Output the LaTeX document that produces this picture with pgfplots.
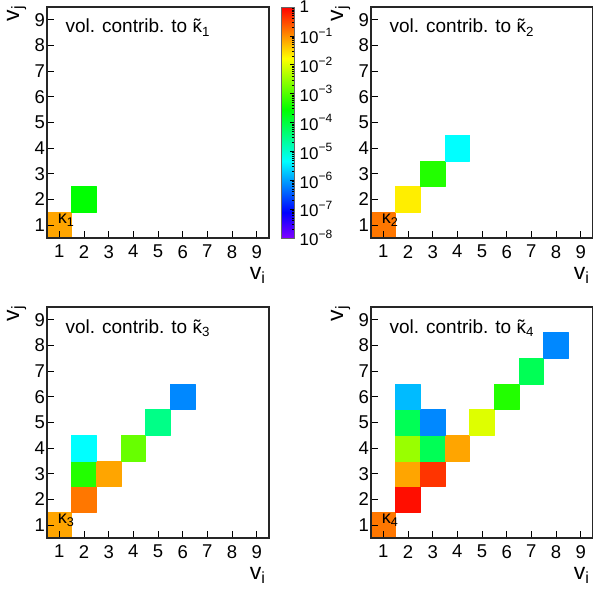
\documentclass[border=0pt]{standalone}
\usepackage{fontspec}
\setmainfont{Liberation Sans}
\usepackage{pgfplots}
\usepackage{pgfplotstable}
\usepgfplotslibrary{patchplots}
\pgfplotsset{compat=1.18}

% cell corners: x y c (c = log10 of the volume contribution)
\pgfplotstableread{
x y c
0.5 0.5 -1.15
1.5 0.5 -1.15
1.5 1.5 -1.15
0.5 1.5 -1.15
1.5 1.5 -3.56
2.5 1.5 -3.56
2.5 2.5 -3.56
1.5 2.5 -3.56
}\kA
\pgfplotstableread{
x y c
0.5 0.5 -0.83
1.5 0.5 -0.83
1.5 1.5 -0.83
0.5 1.5 -0.83
1.5 1.5 -1.66
2.5 1.5 -1.66
2.5 2.5 -1.66
1.5 2.5 -1.66
2.5 2.5 -3.32
3.5 2.5 -3.32
3.5 3.5 -3.32
2.5 3.5 -3.32
3.5 3.5 -5.33
4.5 3.5 -5.33
4.5 4.5 -5.33
3.5 4.5 -5.33
}\kB
\pgfplotstableread{
x y c
0.5 0.5 -1.15
1.5 0.5 -1.15
1.5 1.5 -1.15
0.5 1.5 -1.15
1.5 1.5 -0.83
2.5 1.5 -0.83
2.5 2.5 -0.83
1.5 2.5 -0.83
1.5 2.5 -3.32
2.5 2.5 -3.32
2.5 3.5 -3.32
1.5 3.5 -3.32
2.5 2.5 -1.15
3.5 2.5 -1.15
3.5 3.5 -1.15
2.5 3.5 -1.15
1.5 3.5 -5.33
2.5 3.5 -5.33
2.5 4.5 -5.33
1.5 4.5 -5.33
3.5 3.5 -2.84
4.5 3.5 -2.84
4.5 4.5 -2.84
3.5 4.5 -2.84
4.5 4.5 -4.50
5.5 4.5 -4.50
5.5 5.5 -4.50
4.5 5.5 -4.50
5.5 5.5 -6.16
6.5 5.5 -6.16
6.5 6.5 -6.16
5.5 6.5 -6.16
}\kC
\pgfplotstableread{
x y c
0.5 0.5 -0.83
1.5 0.5 -0.83
1.5 1.5 -0.83
0.5 1.5 -0.83
1.5 1.5 -0.10
2.5 1.5 -0.10
2.5 2.5 -0.10
1.5 2.5 -0.10
1.5 2.5 -1.15
2.5 2.5 -1.15
2.5 3.5 -1.15
1.5 3.5 -1.15
2.5 2.5 -0.36
3.5 2.5 -0.36
3.5 3.5 -0.36
2.5 3.5 -0.36
1.5 3.5 -2.49
2.5 3.5 -2.49
2.5 4.5 -2.49
1.5 4.5 -2.49
2.5 3.5 -4.15
3.5 3.5 -4.15
3.5 4.5 -4.15
2.5 4.5 -4.15
3.5 3.5 -1.15
4.5 3.5 -1.15
4.5 4.5 -1.15
3.5 4.5 -1.15
1.5 4.5 -4.15
2.5 4.5 -4.15
2.5 5.5 -4.15
1.5 5.5 -4.15
2.5 4.5 -6.16
3.5 4.5 -6.16
3.5 5.5 -6.16
2.5 5.5 -6.16
4.5 4.5 -2.01
5.5 4.5 -2.01
5.5 5.5 -2.01
4.5 5.5 -2.01
1.5 5.5 -5.81
2.5 5.5 -5.81
2.5 6.5 -5.81
1.5 6.5 -5.81
5.5 5.5 -3.32
6.5 5.5 -3.32
6.5 6.5 -3.32
5.5 6.5 -3.32
6.5 6.5 -4.15
7.5 6.5 -4.15
7.5 7.5 -4.15
6.5 7.5 -4.15
7.5 7.5 -6.16
8.5 7.5 -6.16
8.5 8.5 -6.16
7.5 8.5 -6.16
}\kD

\newcommand{\ktil}{\ooalign{κ\cr\hidewidth ˜\hidewidth\cr}}
\newcommand{\cbl}[1]{\fontsize{17}{18}\selectfont 10\raisebox{0.45em}{\fontsize{12}{13}\selectfont #1}}

\pgfplotsset{
 colormap={rootpal}{rgb(0cm)=(0.5,0,1); rgb(0.889cm)=(0,0,1); rgb(2.667cm)=(0,1,1); rgb(4.444cm)=(0,1,0); rgb(6.222cm)=(1,1,0); rgb(8cm)=(1,0,0)},
 cellpanel/.style={
   scale only axis, width=222pt, height=231pt,
   anchor=north west,
   xmin=0.5, xmax=9.5, ymin=0.5, ymax=9.5,
   xtick={1,...,9}, ytick={1,...,9},
   tick align=inside, xtick pos=bottom, ytick pos=left,
   major tick length=6.5pt,
   tick style={line width=0.8pt, black},
   axis line style={line width=1.2pt, black!85},
   axis on top,
   point meta min=-8, point meta max=0,
   colormap name=rootpal,
   /pgf/number format/assume math mode=true,
   tick label style={font=\fontsize{18.5}{20}\selectfont},
   xticklabel style={inner sep=0pt, yshift=-7pt},
   yticklabel style={inner sep=0pt, xshift=-2pt},
   every axis x label/.style={at={(axis description cs:1,0)}, anchor=base east, yshift=-42pt, font=\fontsize{23}{24}\selectfont},
   every axis y label/.style={at={(axis description cs:-0.126,1.022)}, anchor=base east, rotate=90, font=\fontsize{23}{24}\selectfont},
   xlabel={v\textsubscript{i}}, ylabel={v\textsubscript{j}},
 },
 cells/.style={patch, patch type=rectangle, shader=flat, point meta=explicit},
}

\begin{document}
\begin{tikzpicture}
\useasboundingbox (0,0) rectangle (593pt,-591pt);

\begin{axis}[cellpanel, at={(47pt,-7pt)},
  colorbar right,
  colorbar style={
    at={(parent axis.north east)}, anchor=north west, xshift=4pt,
    width=13pt,
    ytick={-8,...,0},
    yticklabels={\cbl{−8},\cbl{−7},\cbl{−6},\cbl{−5},\cbl{−4},\cbl{−3},\cbl{−2},\cbl{−1},{\fontsize{17}{18}\selectfont 1}},
    minor ytick={-7.699,-7.523,-7.398,-7.301,-7.222,-7.155,-7.097,-7.046,
                 -6.699,-6.523,-6.398,-6.301,-6.222,-6.155,-6.097,-6.046,
                 -5.699,-5.523,-5.398,-5.301,-5.222,-5.155,-5.097,-5.046,
                 -4.699,-4.523,-4.398,-4.301,-4.222,-4.155,-4.097,-4.046,
                 -3.699,-3.523,-3.398,-3.301,-3.222,-3.155,-3.097,-3.046,
                 -2.699,-2.523,-2.398,-2.301,-2.222,-2.155,-2.097,-2.046,
                 -1.699,-1.523,-1.398,-1.301,-1.222,-1.155,-1.097,-1.046,
                 -0.699,-0.523,-0.398,-0.301,-0.222,-0.155,-0.097,-0.046},
    tick align=inside, ytick pos=right, yticklabel pos=right,
    major tick length=5pt, minor tick length=2.5pt,
    tick style={line width=0.5pt, black},
    axis line style={line width=0.4pt, black!60},
    yticklabel style={inner sep=0pt, xshift=5pt, anchor=west},
  },
]
\addplot[cells] table[meta=c] {\kA};
\node[anchor=base west, font=\fontsize{19}{20}\selectfont] at ([xshift=15pt,yshift=-26pt]rel axis cs:0,1) {vol. contrib. to \ktil\textsubscript{1}};
\node[anchor=base west, font=\fontsize{18}{19}\selectfont] at (axis cs:0.8,1.06) {κ\textsubscript{1}};
\end{axis}

\begin{axis}[cellpanel, at={(371pt,-7pt)}]
\addplot[cells] table[meta=c] {\kB};
\node[anchor=base west, font=\fontsize{19}{20}\selectfont] at ([xshift=15pt,yshift=-26pt]rel axis cs:0,1) {vol. contrib. to \ktil\textsubscript{2}};
\node[anchor=base west, font=\fontsize{18}{19}\selectfont] at (axis cs:0.8,1.06) {κ\textsubscript{2}};
\end{axis}

\begin{axis}[cellpanel, at={(47pt,-307pt)}]
\addplot[cells] table[meta=c] {\kC};
\node[anchor=base west, font=\fontsize{19}{20}\selectfont] at ([xshift=15pt,yshift=-26pt]rel axis cs:0,1) {vol. contrib. to \ktil\textsubscript{3}};
\node[anchor=base west, font=\fontsize{18}{19}\selectfont] at (axis cs:0.8,1.06) {κ\textsubscript{3}};
\end{axis}

\begin{axis}[cellpanel, at={(371pt,-307pt)}]
\addplot[cells] table[meta=c] {\kD};
\node[anchor=base west, font=\fontsize{19}{20}\selectfont] at ([xshift=15pt,yshift=-26pt]rel axis cs:0,1) {vol. contrib. to \ktil\textsubscript{4}};
\node[anchor=base west, font=\fontsize{18}{19}\selectfont] at (axis cs:0.8,1.06) {κ\textsubscript{4}};
\end{axis}
\end{tikzpicture}
\end{document}
